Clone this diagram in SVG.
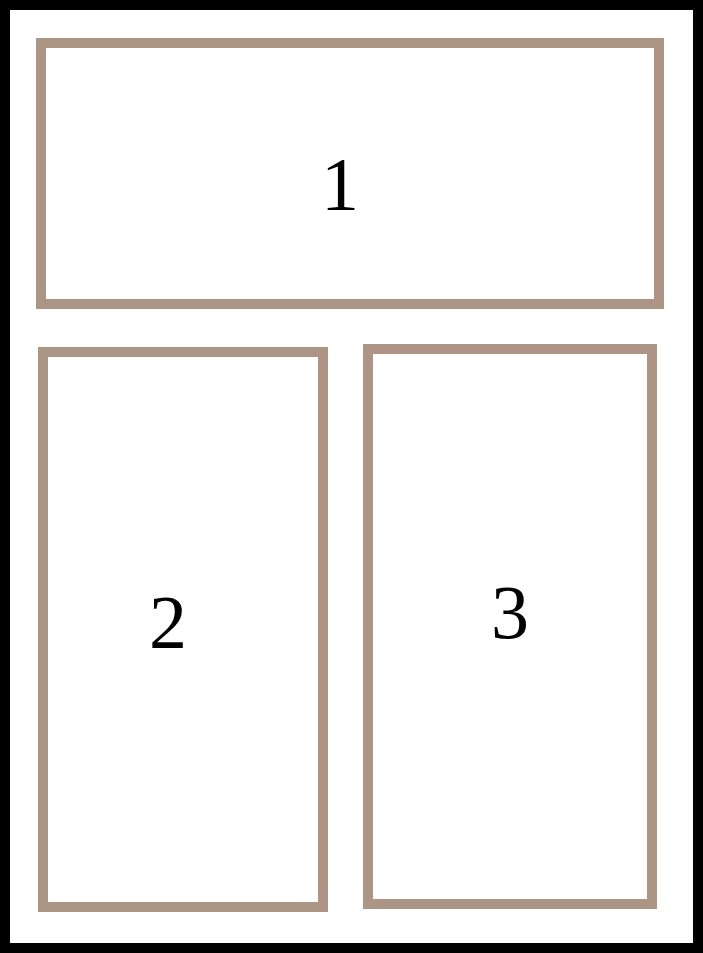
<svg xmlns="http://www.w3.org/2000/svg" width="703" height="953" viewBox="0 0 703 953">
<style>
.box{fill:none;stroke:#ad9586;stroke-width:10}
.lbl{font-family:"Liberation Serif","DejaVu Serif",serif;font-size:76px;fill:#000;text-anchor:middle}
</style>
<rect x="0" y="0" width="703" height="953" fill="#fff"/>
<rect x="5" y="5" width="693" height="943" fill="none" stroke="#000" stroke-width="10"/>
<g id="node1"><rect class="box" x="41" y="43" width="618" height="261"/><text class="lbl" x="340" y="210">1</text></g>
<g id="node2"><rect class="box" x="43" y="352" width="280" height="555"/><text class="lbl" x="168" y="648">2</text></g>
<g id="node3"><rect class="box" x="368" y="349" width="284" height="555"/><text class="lbl" x="510" y="638">3</text></g>
<g id="connectors"></g>
</svg>
